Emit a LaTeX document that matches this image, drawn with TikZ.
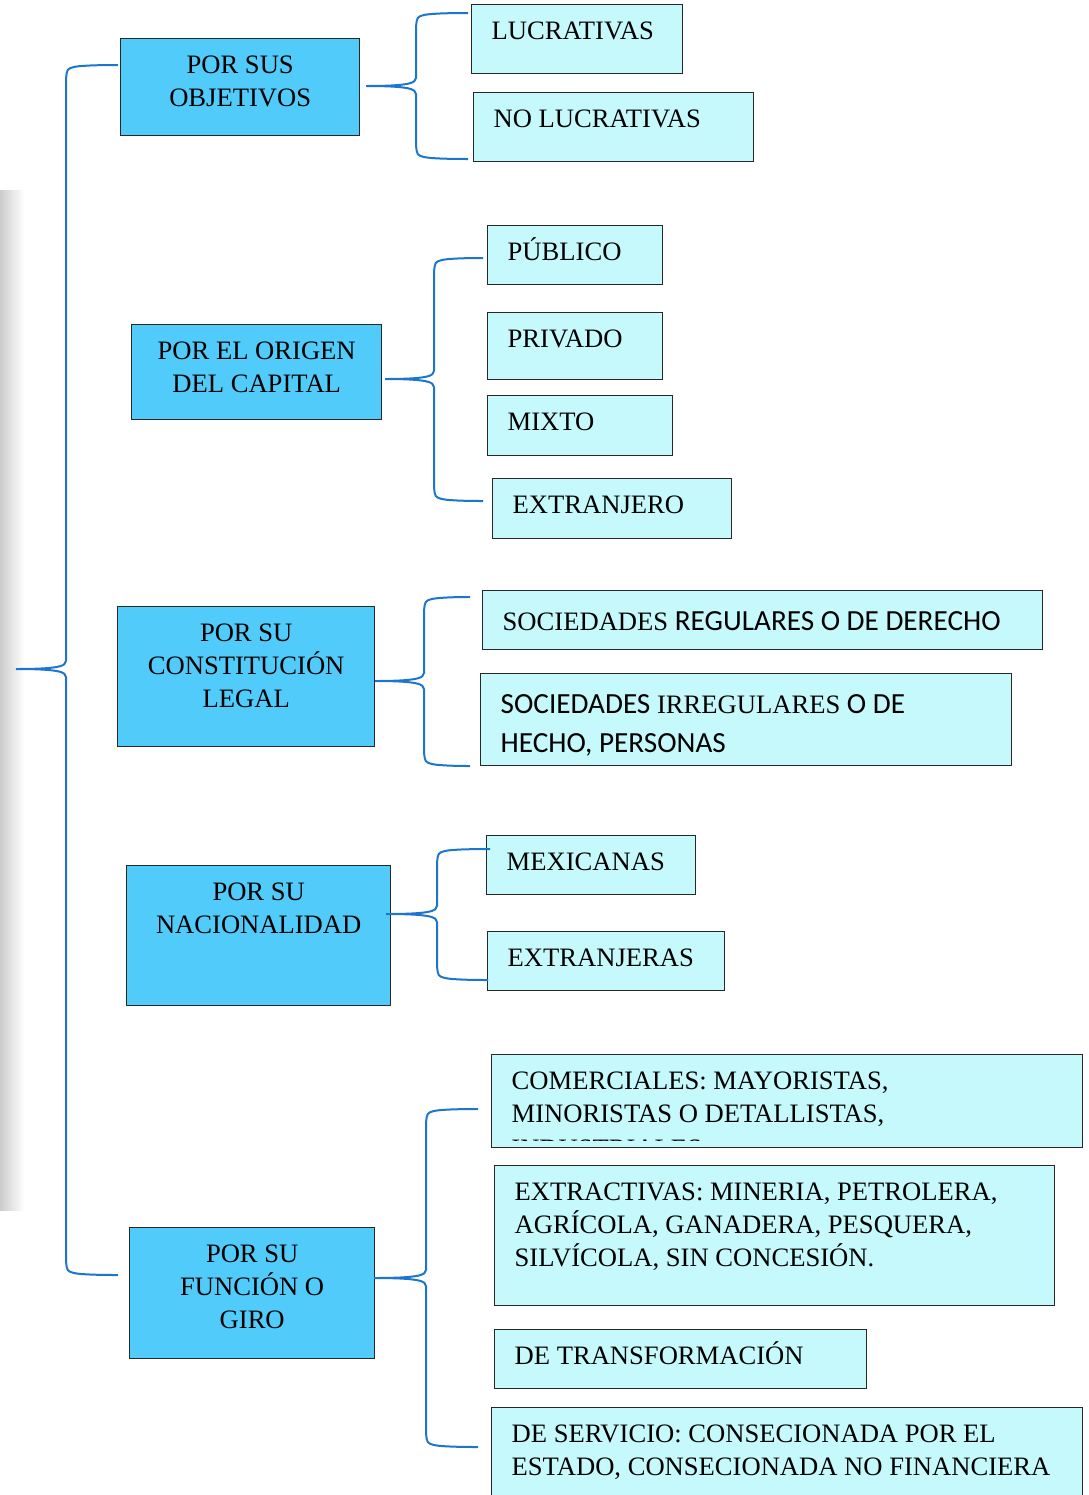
\documentclass[tikz,border=0pt]{standalone}
\usepackage{fontspec}
\setmainfont{Liberation Serif}
\newfontfamily\calibri{Carlito}
\usetikzlibrary{calc}

\definecolor{azul}{RGB}{80,203,250}
\definecolor{celeste}{RGB}{198,249,252}
\definecolor{borde}{RGB}{40,40,40}
\definecolor{llavec}{RGB}{28,117,206}

% one pixel of the sketch
\newdimen\px \px=0.5pt

% box contents: height, width, text
\newcommand{\centro}[3]{\parbox[t][#1\px][t]{#2\px}{\centering\vspace*{6pt}\strut#3}}
\newcommand{\izq}[3]{\parbox[t][#1\px][t]{#2\px}{\raggedright\leftskip=10pt\vspace*{6pt}\strut#3}}

% curly brace: tip, top end, bottom end, offset of the spine
\newcommand{\llave}[4]{%
  \path ($(#1)+(#4,0)$) coordinate (s);
  \draw[llave] (#2) .. controls ($(#2 -| s)+(25,0)$) and ($(#2 -| s)+(12,1)$) .. ($(#2 -| s)+(8,2)$)
    .. controls ($(#2 -| s)+(1,4)$) .. ($(#2 -| s)+(0,14)$)
    -- ($(s)+(0,-8)$)
    .. controls ($(s)+(0,-3)$) and ($(s)+(-7,0)$) .. (#1)
    .. controls ($(s)+(-7,0)$) and ($(s)+(0,3)$) .. ($(s)+(0,8)$)
    -- ($(#3 -| s)+(0,-14)$)
    .. controls ($(#3 -| s)+(1,-4)$) .. ($(#3 -| s)+(8,-2)$)
    .. controls ($(#3 -| s)+(12,-1)$) and ($(#3 -| s)+(25,0)$) .. (#3);}

\begin{document}
\begin{tikzpicture}[%
    x=0.5pt, y=-0.5pt,                    % pixel grid, y going down
    font=\fontsize{13.3}{16.5}\selectfont,
    ]
% -------------------------------------------------
% Styles of the boxes and the braces
\tikzset{
  rama/.style={draw=borde, fill=azul, line width=0.7pt, anchor=north west, inner sep=0pt},
  hoja/.style={rama, fill=celeste},
  ancha/.style={font=\fontsize{13.3}{19.5}\selectfont},
  llave/.style={draw=llavec, line width=1pt},
}
\useasboundingbox (0,0) rectangle (1088,1495);
\shade[left color=black!20, right color=white] (0,190) rectangle (24,1210);

% -------------------------------------------------
% Por sus objetivos
\node[rama] (o1) at (120,38) {\centro{97}{239}{POR SUS\\OBJETIVOS}};
\node[hoja] (r11) at (471,4) {\izq{69}{211}{LUCRATIVAS}};
\node[hoja] (r12) at (473,92) {\izq{69}{280}{NO LUCRATIVAS}};

% Por el origen del capital
\node[rama] (o2) at (131,324) {\centro{95}{250}{POR EL ORIGEN\\DEL CAPITAL}};
\node[hoja] (r21) at (487,225) {\izq{59}{175}{PÚBLICO}};
\node[hoja] (r22) at (487,312) {\izq{67}{175}{PRIVADO}};
\node[hoja] (r23) at (487,395) {\izq{60}{185}{MIXTO}};
\node[hoja] (r24) at (492,478) {\izq{60}{239}{EXTRANJERO}};

% Por su constitucion legal
\node[rama] (o3) at (117,606) {\centro{140}{257}{POR SU\\CONSTITUCIÓN\\LEGAL}};
\node[hoja, ancha] (r31) at (482,590)
  {\izq{59}{560}{SOCIEDADES {\calibri\fontsize{14.6}{19.5}\selectfont REGULARES O DE DERECHO}}};
\node[hoja, ancha] (r32) at (480,673)
  {\izq{92}{531}{{\calibri\fontsize{14.6}{19.5}\selectfont SOCIEDADES} IRREGULARES
   {\calibri\fontsize{14.6}{19.5}\selectfont O DE}\\
   {\calibri\fontsize{14.6}{19.5}\selectfont HECHO, PERSONAS}}};

% Por su nacionalidad
\node[rama] (o4) at (126,865) {\centro{140}{264}{POR SU\\NACIONALIDAD}};
\node[hoja] (r41) at (486,835) {\izq{59}{209}{MEXICANAS}};
\node[hoja] (r42) at (487,931) {\izq{59}{237}{EXTRANJERAS}};

% Por su funcion o giro
\node[rama] (o5) at (129,1227) {\centro{131}{245}{POR SU\\FUNCIÓN O\\GIRO}};
\node[hoja] (r51) at (491,1054)
  {\izq{93}{591}{COMERCIALES: MAYORISTAS,\\MINORISTAS O DETALLISTAS,}};
\node[hoja] (r52) at (494,1165)
  {\izq{140}{560}{EXTRACTIVAS: MINERIA, PETROLERA,\\AGRÍCOLA, GANADERA, PESQUERA,\\SILVÍCOLA, SIN CONCESIÓN.}};
\node[hoja] (r53) at (494,1329) {\izq{59}{372}{DE TRANSFORMACIÓN}};
\node[hoja] (r54) at (491,1407)
  {\izq{95}{591}{DE SERVICIO: CONSECIONADA POR EL\\ESTADO, CONSECIONADA NO FINANCIERA}};
% third line of the first box is cut by its margin
\begin{scope}
  \clip (r51.north west) rectangle ($(r51.south east)+(0,-8)$);
  \node[anchor=base west, inner sep=0pt] (r51c) at ($(r51.north west)+(20,103)$) {INDUSTRIALES};
\end{scope}

% -------------------------------------------------
% Braces
\coordinate (p0) at (16,669);   \coordinate (p0a) at (118,65);  \coordinate (p0b) at (118,1275);
\coordinate (p1) at (366,86);   \coordinate (p1a) at (468,13);  \coordinate (p1b) at (468,159);
\coordinate (p2) at (385,379);  \coordinate (p2a) at (483,258); \coordinate (p2b) at (483,501);
\coordinate (p3) at (375,681);  \coordinate (p3a) at (470,597); \coordinate (p3b) at (470,766);
\coordinate (p4) at (386,914);  \coordinate (p4a) at (490,849); \coordinate (p4b) at (488,980);
\coordinate (p5) at (374,1278); \coordinate (p5a) at (478,1109); \coordinate (p5b) at (478,1447);

\llave{p0}{p0a}{p0b}{50}
\llave{p1}{p1a}{p1b}{50}
\llave{p2}{p2a}{p2b}{49}
\llave{p3}{p3a}{p3b}{49}
\llave{p4}{p4a}{p4b}{51}
\llave{p5}{p5a}{p5b}{52}

% -------------------------------------------------
\end{tikzpicture}
\end{document}
